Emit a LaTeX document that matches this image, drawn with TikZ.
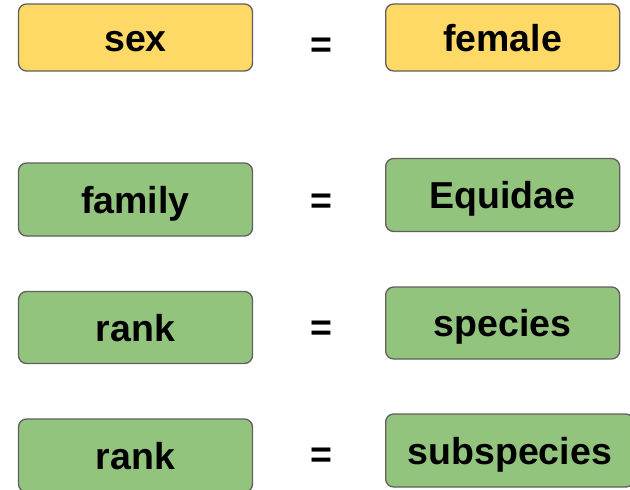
\documentclass[tikz,border=0pt]{standalone}
\usepackage{fontspec}
\setmainfont{Liberation Sans}
\definecolor{gelb}{HTML}{FFD966}
\definecolor{gruen}{HTML}{93C47D}
\definecolor{rand}{HTML}{5F5F5F}
\begin{document}
\begin{tikzpicture}[x=1pt,y=-1pt,line join=round,font=\fontsize{37.5}{42}\selectfont\bfseries,
box/.style={draw=rand,line width=1.3pt,rounded corners=8pt,minimum width=234pt,inner xsep=22pt,inner ysep=0pt,text height=27pt,text depth=0pt},
gleich/.style={anchor=base,inner sep=0pt}]
\def\xl{135.5} \def\xr{385} \def\xe{321}
\useasboundingbox (0,0) rectangle (630,490);
% Zeilen: Nummer/Mitte links/Mitte rechts/Hoehe/Farbe/links/rechts/Gleichheitszeichen
\foreach \n/\yl/\yr/\h/\farbe/\links/\rechts/\ye in
{1/37.5/37.5/67/gelb/sex/female/44.5,
 2/199.5/195/73/gruen/family/Equidae/200,
 3/327.5/323/72/gruen/rank/species/327,
 4/455.5/450.5/73/gruen/rank/subspecies/454}
{
\node[box,fill=\farbe,minimum height=\h pt] (l\n) at (\xl,\yl) {\links};
\node[box,fill=\farbe,minimum height=\h pt,anchor=west] (r\n) at (\xr,\yr) {\rechts};
\node[gleich] (eq\n) at (\xe,\ye+13) {=};
}
\end{tikzpicture}
\end{document}
